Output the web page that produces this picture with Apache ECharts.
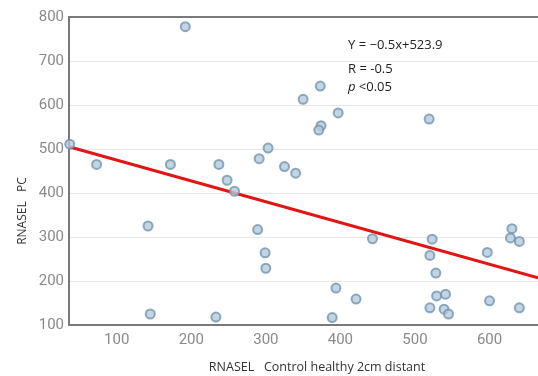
<!DOCTYPE html>
<html>
<head>
<meta charset="utf-8">
<script src="https://cdn.jsdelivr.net/npm/echarts@6/dist/echarts.min.js"></script>
<style>html,body{margin:0;padding:0;background:#fff;}#c{width:538px;height:376px;}</style>
</head>
<body>
<div id="c"></div>
<script>
var xTicks = [100, 200, 300, 400, 500, 600];
var yTicks = [100, 200, 300, 400, 500, 600, 700, 800];
var pointsX = [192, 37, 73, 172, 237, 248, 258, 291, 303,
  373, 350, 397, 374, 371, 519, 325, 340,
  142, 145, 233, 289, 299, 300,
  443, 523, 520, 528, 529, 541, 520, 539, 545, 394, 421, 389, 597, 600, 630, 628, 640, 640];
var pointsY = [778, 511, 465, 465, 465, 429, 404, 478, 502,
  643, 613, 582, 553, 543, 568, 460, 445,
  325, 125, 118, 317, 264, 229,
  296, 295, 258, 218, 166, 170, 139, 136, 125, 184, 159, 117, 265, 155, 319, 298, 290, 139];
var fitX = [36, 665];
var fitY = [505, 207];
var annotation = ['Y = \u22120.5x+523.9', 'R = -0.5'];

var pts = pointsX.map(function (x, i) { return [x, pointsY[i]]; });
var fit = fitX.map(function (x, i) { return [x, fitY[i]]; });

var chart = echarts.init(document.getElementById('c'), null, {renderer: 'canvas'});
chart.setOption({
  animation: false,
  grid: {left: 69, right: 0, top: 17, bottom: 51},
  xAxis: [{
    type: 'value', min: 36, max: 665,
    axisLine: {show: true, onZero: false, lineStyle: {color: '#7a7a7a', width: 2}},
    axisTick: {show: false},
    splitLine: {show: false},
    axisLabel: {customValues: xTicks, color: '#8a8a8a', fontSize: 15, fontFamily: 'Roboto', margin: 8}
  }, {
    type: 'value', position: 'top', min: 36, max: 665,
    axisLine: {show: true, onZero: false, lineStyle: {color: '#7a7a7a', width: 2}},
    axisTick: {show: false}, axisLabel: {show: false}, splitLine: {show: false}
  }],
  yAxis: {
    type: 'value', min: 100, max: 800, interval: 100,
    axisLine: {show: true, onZero: false, lineStyle: {color: '#7a7a7a', width: 2}},
    axisTick: {show: false},
    splitLine: {show: true, lineStyle: {color: '#e6e6e6', width: 1}},
    axisLabel: {color: '#8a8a8a', fontSize: 15, fontFamily: 'Roboto', margin: 5}
  },
  series: [{
    type: 'line', data: fit, symbol: 'none', z: 3,
    lineStyle: {color: '#e31414', width: 3}
  }, {
    type: 'scatter', data: pts, symbol: 'circle', symbolSize: 9, z: 4,
    itemStyle: {color: '#b3cadd', borderColor: '#7694ad', borderWidth: 2}
  }],
  graphic: [
    {type: 'text', left: 348, top: 39, style: {text: annotation[0], font: '13px "Open Sans"', fill: '#222'}},
    {type: 'text', left: 348, top: 63, style: {text: annotation[1], font: '13px "Open Sans"', fill: '#222'}},
    {type: 'text', left: 348, top: 81, style: {
      rich: {i: {font: 'italic 13px "Open Sans"', fill: '#222'}, n: {font: '13px "Open Sans"', fill: '#222'}},
      text: '{i|p} {n|<0.05}'}},
    {type: 'text', x: 23, y: 211, rotation: Math.PI / 2, style: {
      text: 'RNASEL   PC', font: '12px "Open Sans"', fill: '#333', align: 'center', verticalAlign: 'middle'}},
    {type: 'text', x: 317, y: 367, style: {
      text: 'RNASEL   Control healthy 2cm distant', font: '12.5px "Open Sans"', fill: '#333', align: 'center', verticalAlign: 'middle'}}
  ]
});
</script>
</body>
</html>
